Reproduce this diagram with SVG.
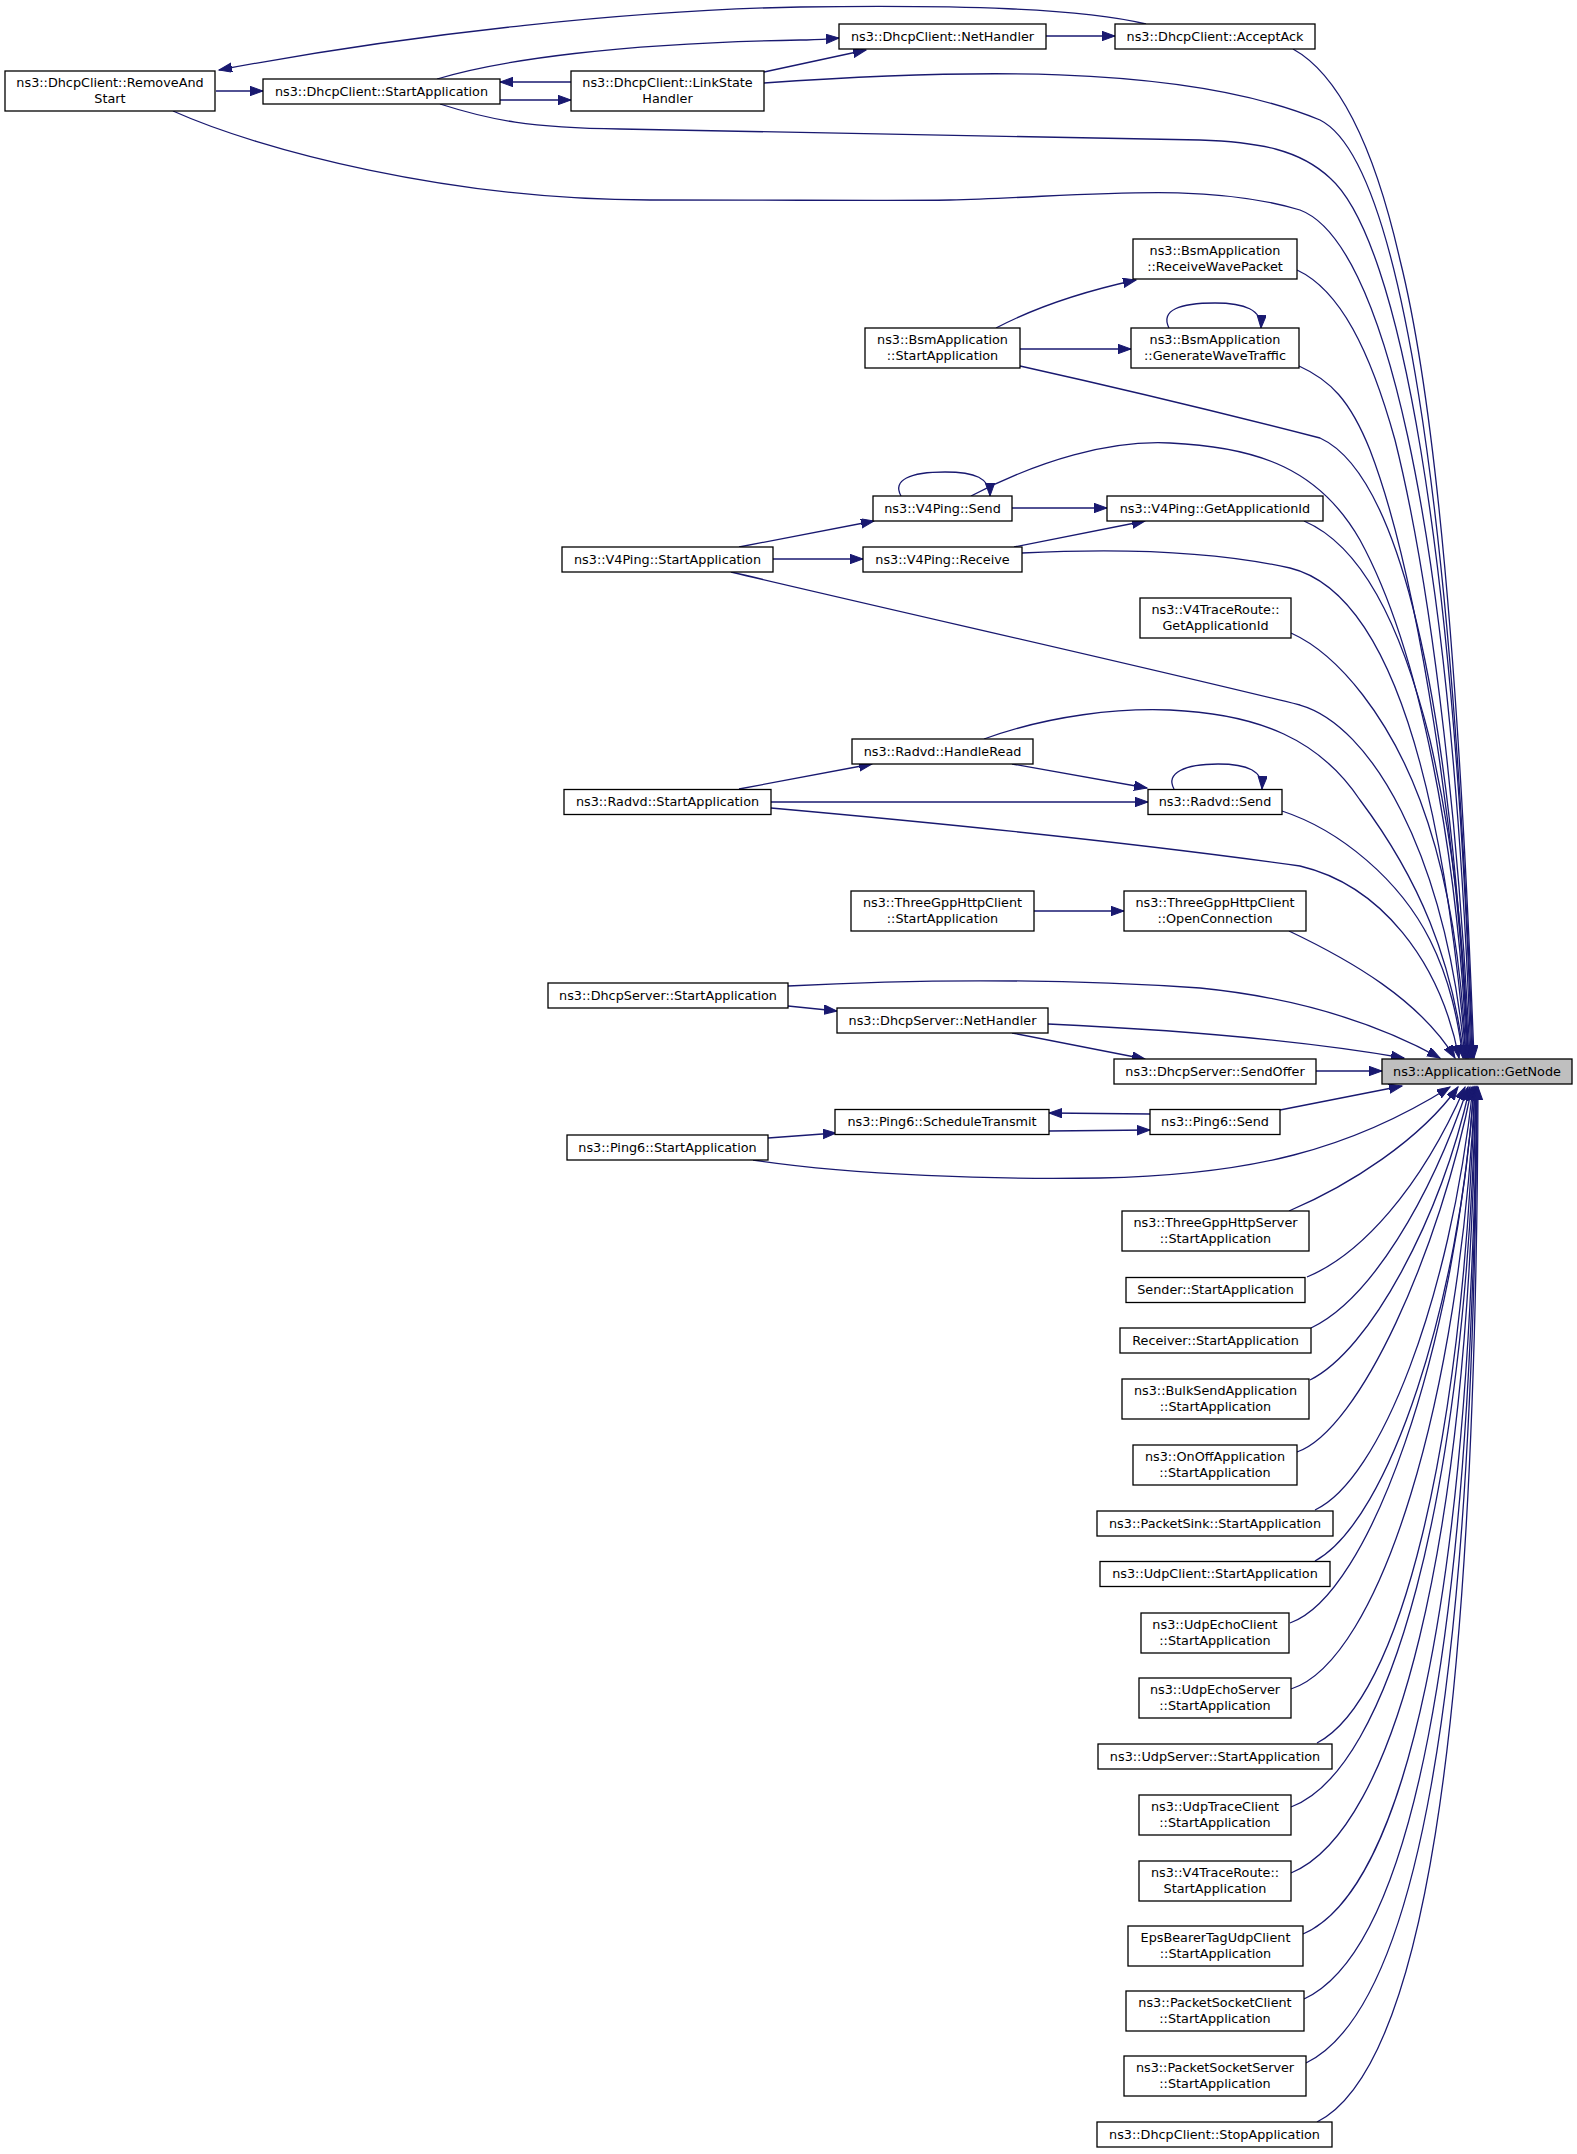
<svg xmlns="http://www.w3.org/2000/svg" width="1577" height="2154" viewBox="0 0 1577 2154">
<style>
.node rect{fill:#ffffff;stroke:#000000;stroke-width:1.3}
.root rect{fill:#bfbfbf}
text{font-family:"DejaVu Sans","Liberation Sans",sans-serif;font-size:12.8px;text-anchor:middle;fill:#000000}
.edges path{fill:none;stroke:#191970;stroke-width:1.3;marker-end:url(#arr)}
</style>
<defs>
<marker id="arr" markerUnits="userSpaceOnUse" markerWidth="15" markerHeight="11" refX="13" refY="4.7" orient="auto">
<path d="M0,0 L13,4.7 L0,9.4 z" fill="#191970" stroke="#191970" stroke-width="1"/>
</marker>
</defs>
<rect x="0" y="0" width="1577" height="2154" fill="#ffffff"/>
<g class="edges" id="edges">
<path d="M1146,24 C1080,8 960,5 800,7 C640,10 420,32 219,70"/>
<path d="M216,91 L263,91"/>
<path d="M571,82 L500,82"/>
<path d="M500,100 L571,100"/>
<path d="M437,79 C500,60 620,43 800,40 C815,40 825,39 839,38"/>
<path d="M764,72 L866,50"/>
<path d="M764,83 C950,70 1180,62 1320,120 C1400,160 1452,500 1473,1058"/>
<path d="M440,104 C490,120 530,128 620,129 L1200,140 C1260,142 1300,150 1330,178 C1400,240 1455,550 1472,1058"/>
<path d="M173,111 C260,150 450,200 650,200 C800,200 900,201 950,200 C1080,197 1200,180 1300,210 C1380,240 1450,500 1471,1058"/>
<path d="M1046,36 L1115,36"/>
<path d="M1293,49 C1340,75 1375,150 1400,260 C1445,440 1464,800 1474,1058"/>
<path d="M1297,270 C1340,290 1370,350 1395,440 C1435,600 1460,850 1470,1058"/>
<path d="M1020,349 L1131,349"/>
<path d="M996,328 C1040,305 1090,290 1136,280"/>
<path d="M1169,328 C1160,310 1180,303 1215,303 C1245,303 1262,310 1261,328"/>
<path d="M1299,366 C1330,380 1350,400 1370,450 C1420,580 1458,850 1469,1058"/>
<path d="M1020,366 C1150,395 1250,420 1320,438 C1390,470 1448,650 1468,1058"/>
<path d="M901,496 C892,480 910,472 945,472 C975,472 990,478 990,496"/>
<path d="M971,496 C1040,460 1110,440 1170,443 C1260,447 1320,470 1360,540 C1420,650 1458,850 1467,1058"/>
<path d="M1012,508 L1107,508"/>
<path d="M739,547 L874,521"/>
<path d="M773,559 L863,559"/>
<path d="M1014,547 L1145,521"/>
<path d="M1304,521 C1360,545 1400,620 1430,740 C1455,850 1465,950 1468,1058"/>
<path d="M1022,553 C1100,549 1200,548 1290,568 C1380,590 1440,750 1466,1058"/>
<path d="M731,572 C900,612 1150,668 1300,705 C1370,725 1445,850 1465,1058"/>
<path d="M1291,633 C1340,655 1390,720 1420,800 C1450,880 1462,970 1466,1058"/>
<path d="M984,739 C1050,715 1120,708 1170,710 C1260,714 1320,740 1360,800 C1420,880 1452,960 1464,1058"/>
<path d="M739,789 L872,764"/>
<path d="M1012,764 L1147,788"/>
<path d="M771,802 L1148,802"/>
<path d="M1174,789 C1165,773 1185,764 1218,764 C1248,764 1263,771 1262,789"/>
<path d="M1282,811 C1340,830 1400,880 1430,940 C1450,980 1458,1020 1463,1058"/>
<path d="M771,808 C950,824 1150,845 1300,866 C1380,885 1440,960 1459,1058"/>
<path d="M1034,911 L1124,911"/>
<path d="M1289,931 C1350,960 1420,1000 1455,1058"/>
<path d="M788,986 C900,980 1050,978 1200,988 C1300,998 1380,1025 1440,1058"/>
<path d="M788,1006 L837,1011"/>
<path d="M1048,1024 C1180,1030 1300,1040 1404,1058"/>
<path d="M1012,1033 L1145,1059"/>
<path d="M1316,1071 L1382,1071"/>
<path d="M1150,1114 L1049,1113"/>
<path d="M1049,1131 L1150,1130"/>
<path d="M768,1138 L836,1133"/>
<path d="M1280,1110 L1402,1086"/>
<path d="M753,1160 C850,1175 1000,1180 1100,1178 C1250,1175 1350,1150 1450,1087"/>
<path d="M1289,1211 C1350,1185 1420,1140 1458,1087"/>
<path d="M1307,1277 C1360,1255 1420,1190 1465,1087"/>
<path d="M1311,1328 C1370,1300 1430,1200 1468,1087"/>
<path d="M1310,1380 C1370,1350 1440,1220 1470,1087"/>
<path d="M1297,1452 C1360,1430 1440,1250 1472,1087"/>
<path d="M1315,1510 C1380,1480 1450,1300 1473,1087"/>
<path d="M1315,1561 C1390,1520 1460,1300 1474,1087"/>
<path d="M1290,1623 C1370,1595 1455,1350 1474,1087"/>
<path d="M1291,1689 C1380,1660 1460,1400 1475,1087"/>
<path d="M1317,1743 C1400,1700 1462,1450 1475,1087"/>
<path d="M1291,1807 C1390,1770 1465,1500 1476,1087"/>
<path d="M1291,1873 C1395,1830 1468,1550 1476,1087"/>
<path d="M1303,1934 C1405,1890 1470,1600 1477,1087"/>
<path d="M1304,1999 C1410,1950 1472,1650 1477,1087"/>
<path d="M1306,2063 C1415,2010 1474,1700 1477,1087"/>
<path d="M1317,2122 C1420,2070 1476,1750 1478,1087"/>
</g>
<g class="node" id="n_removeandstart"><rect x="5" y="71" width="210" height="40"/><text x="110" y="87">ns3::DhcpClient::RemoveAnd</text><text x="110" y="103">Start</text></g>
<g class="node" id="n_dhcpc_start"><rect x="263" y="79" width="237" height="25"/><text x="381.5" y="95.5">ns3::DhcpClient::StartApplication</text></g>
<g class="node" id="n_linkstate"><rect x="571" y="71" width="193" height="40"/><text x="667.5" y="87">ns3::DhcpClient::LinkState</text><text x="667.5" y="103">Handler</text></g>
<g class="node" id="n_dhcpc_net"><rect x="839" y="24" width="207" height="25"/><text x="942.5" y="40.5">ns3::DhcpClient::NetHandler</text></g>
<g class="node" id="n_acceptack"><rect x="1115" y="24" width="200" height="25"/><text x="1215" y="40.5">ns3::DhcpClient::AcceptAck</text></g>
<g class="node" id="n_bsm_recv"><rect x="1133" y="239" width="164" height="40"/><text x="1215" y="255">ns3::BsmApplication</text><text x="1215" y="271">::ReceiveWavePacket</text></g>
<g class="node" id="n_bsm_start"><rect x="865" y="328" width="155" height="40"/><text x="942.5" y="344">ns3::BsmApplication</text><text x="942.5" y="360">::StartApplication</text></g>
<g class="node" id="n_bsm_gen"><rect x="1131" y="328" width="168" height="40"/><text x="1215" y="344">ns3::BsmApplication</text><text x="1215" y="360">::GenerateWaveTraffic</text></g>
<g class="node" id="n_v4_send"><rect x="873" y="496" width="139" height="25"/><text x="942.5" y="512.5">ns3::V4Ping::Send</text></g>
<g class="node" id="n_v4_getid"><rect x="1107" y="496" width="216" height="25"/><text x="1215" y="512.5">ns3::V4Ping::GetApplicationId</text></g>
<g class="node" id="n_v4_start"><rect x="562" y="547" width="211" height="25"/><text x="667.5" y="563.5">ns3::V4Ping::StartApplication</text></g>
<g class="node" id="n_v4_recv"><rect x="863" y="547" width="159" height="25"/><text x="942.5" y="563.5">ns3::V4Ping::Receive</text></g>
<g class="node" id="n_v4tr_getid"><rect x="1140" y="598" width="151" height="40"/><text x="1215.5" y="614">ns3::V4TraceRoute::</text><text x="1215.5" y="630">GetApplicationId</text></g>
<g class="node" id="n_radvd_read"><rect x="852" y="739" width="181" height="25"/><text x="942.5" y="755.5">ns3::Radvd::HandleRead</text></g>
<g class="node" id="n_radvd_start"><rect x="564" y="789.5" width="207" height="25"/><text x="667.5" y="806">ns3::Radvd::StartApplication</text></g>
<g class="node" id="n_radvd_send"><rect x="1148" y="789.5" width="134" height="25"/><text x="1215" y="806">ns3::Radvd::Send</text></g>
<g class="node" id="n_3gc_start"><rect x="851" y="891" width="183" height="40"/><text x="942.5" y="907">ns3::ThreeGppHttpClient</text><text x="942.5" y="923">::StartApplication</text></g>
<g class="node" id="n_3gc_open"><rect x="1124" y="891" width="182" height="40"/><text x="1215" y="907">ns3::ThreeGppHttpClient</text><text x="1215" y="923">::OpenConnection</text></g>
<g class="node" id="n_dhcps_start"><rect x="548" y="983" width="240" height="25"/><text x="668" y="999.5">ns3::DhcpServer::StartApplication</text></g>
<g class="node" id="n_dhcps_net"><rect x="837" y="1008" width="211" height="25"/><text x="942.5" y="1024.5">ns3::DhcpServer::NetHandler</text></g>
<g class="node" id="n_dhcps_offer"><rect x="1114" y="1059" width="202" height="25"/><text x="1215" y="1075.5">ns3::DhcpServer::SendOffer</text></g>
<g class="node root" id="n_getnode"><rect x="1382" y="1059" width="190" height="25"/><text x="1477" y="1075.5">ns3::Application::GetNode</text></g>
<g class="node" id="n_ping6_sched"><rect x="835" y="1109.5" width="214" height="25"/><text x="942" y="1126">ns3::Ping6::ScheduleTransmit</text></g>
<g class="node" id="n_ping6_send"><rect x="1150" y="1109.5" width="130" height="25"/><text x="1215" y="1126">ns3::Ping6::Send</text></g>
<g class="node" id="n_ping6_start"><rect x="567" y="1135" width="201" height="25"/><text x="667.5" y="1151.5">ns3::Ping6::StartApplication</text></g>
<g class="node" id="n_3gs_start"><rect x="1122" y="1211" width="187" height="40"/><text x="1215.5" y="1227">ns3::ThreeGppHttpServer</text><text x="1215.5" y="1243">::StartApplication</text></g>
<g class="node" id="n_sender"><rect x="1126" y="1277.5" width="179" height="25"/><text x="1215.5" y="1294">Sender::StartApplication</text></g>
<g class="node" id="n_receiver"><rect x="1120" y="1328" width="191" height="25"/><text x="1215.5" y="1344.5">Receiver::StartApplication</text></g>
<g class="node" id="n_bulk"><rect x="1122" y="1379" width="187" height="40"/><text x="1215.5" y="1395">ns3::BulkSendApplication</text><text x="1215.5" y="1411">::StartApplication</text></g>
<g class="node" id="n_onoff"><rect x="1133" y="1445" width="164" height="40"/><text x="1215" y="1461">ns3::OnOffApplication</text><text x="1215" y="1477">::StartApplication</text></g>
<g class="node" id="n_psink"><rect x="1097" y="1511" width="236" height="25"/><text x="1215" y="1527.5">ns3::PacketSink::StartApplication</text></g>
<g class="node" id="n_udpc"><rect x="1100" y="1561.5" width="230" height="25"/><text x="1215" y="1578">ns3::UdpClient::StartApplication</text></g>
<g class="node" id="n_echoc"><rect x="1141" y="1613" width="148" height="40"/><text x="1215" y="1629">ns3::UdpEchoClient</text><text x="1215" y="1645">::StartApplication</text></g>
<g class="node" id="n_echos"><rect x="1139" y="1678" width="152" height="40"/><text x="1215" y="1694">ns3::UdpEchoServer</text><text x="1215" y="1710">::StartApplication</text></g>
<g class="node" id="n_udps"><rect x="1098" y="1744" width="234" height="25"/><text x="1215" y="1760.5">ns3::UdpServer::StartApplication</text></g>
<g class="node" id="n_tracec"><rect x="1139" y="1795" width="152" height="40"/><text x="1215" y="1811">ns3::UdpTraceClient</text><text x="1215" y="1827">::StartApplication</text></g>
<g class="node" id="n_v4tr_start"><rect x="1139" y="1861" width="152" height="40"/><text x="1215" y="1877">ns3::V4TraceRoute::</text><text x="1215" y="1893">StartApplication</text></g>
<g class="node" id="n_eps"><rect x="1128" y="1926" width="175" height="40"/><text x="1215.5" y="1942">EpsBearerTagUdpClient</text><text x="1215.5" y="1958">::StartApplication</text></g>
<g class="node" id="n_psc"><rect x="1126" y="1991" width="178" height="40"/><text x="1215" y="2007">ns3::PacketSocketClient</text><text x="1215" y="2023">::StartApplication</text></g>
<g class="node" id="n_pss"><rect x="1124" y="2056" width="182" height="40"/><text x="1215" y="2072">ns3::PacketSocketServer</text><text x="1215" y="2088">::StartApplication</text></g>
<g class="node" id="n_stop"><rect x="1097" y="2122" width="235" height="25"/><text x="1214.5" y="2138.5">ns3::DhcpClient::StopApplication</text></g>
</svg>
